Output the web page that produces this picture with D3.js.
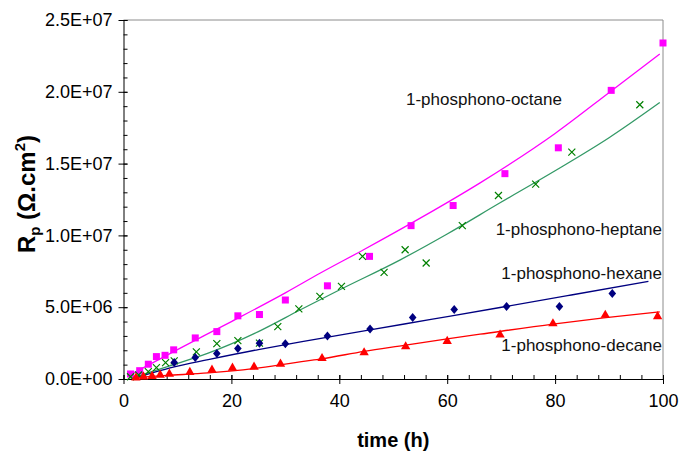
<!DOCTYPE html>
<html lang="en">
<head>
<meta charset="UTF-8">
<title>Rp vs time</title>
<script src="https://cdnjs.cloudflare.com/ajax/libs/d3/7.8.5/d3.min.js"></script>
<style>
  body { margin: 0; background: #fff; }
  svg { display: block; font-family: "Liberation Sans", Arial, sans-serif; }
  .tick text { font-size: 18px; fill: #000; }
  .domain, .tick line { stroke: #000; }
</style>
</head>
<body>
<div id="chart"></div>
<script>
// measured points [time h, Rp ohm.cm2]
const octane = [[1.3,3.5e5],[3.0,5.8e5],[4.6,1.03e6],[6.1,1.56e6],[7.7,1.65e6],[9.3,2.03e6],
  [13.3,2.86e6],[17.3,3.3e6],[21.2,4.4e6],[25.2,4.49e6],[30.0,5.5e6],[37.8,6.49e6],[45.6,8.54e6],
  [53.3,1.068e7],[61.1,1.208e7],[70.7,1.43e7],[80.6,1.61e7],[90.4,2.01e7],[100,2.34e7]];
const heptane = [[1.3,1.6e5],[2.8,2.8e5],[4.6,5.1e5],[6.1,7.9e5],[7.8,1.14e6],[9.4,1.26e6],
  [13.5,1.89e6],[17.3,2.46e6],[21.2,2.67e6],[25.2,2.5e6],[28.6,3.65e6],[32.5,4.88e6],[36.4,5.75e6],
  [40.4,6.45e6],[44.3,8.54e6],[48.3,7.42e6],[52.2,9.0e6],[56.1,8.08e6],[62.8,1.068e7],[69.5,1.278e7],
  [76.4,1.357e7],[83.1,1.58e7],[95.7,1.91e7]];
const hexane = [[9.4,1.15e6],[13.3,1.49e6],[17.3,1.78e6],[21.2,2.13e6],[25.2,2.49e6],[30.0,2.45e6],
  [37.8,3.0e6],[45.7,3.49e6],[53.6,4.28e6],[61.3,4.84e6],[71.0,5.05e6],[80.8,5.05e6],[90.6,5.96e6]];
const decane = [[2.3,8e4],[3.7,1.6e5],[5.3,1.9e5],[6.8,2.8e5],[8.5,3.5e5],[12.3,4.7e5],[16.4,6.3e5],
  [20.2,7.7e5],[24.2,8.4e5],[29.1,1.05e6],[36.8,1.44e6],[44.6,1.84e6],[52.3,2.26e6],[60.0,2.63e6],
  [69.8,3.07e6],[79.6,3.86e6],[89.3,4.45e6],[99.0,4.35e6]];

// trend lines
const octaneFit = [[1.3,3.0e5],[10,2.05e6],[20,4.0e6],[30,6.0e6],[36.5,7.38e6],[44.5,9.0e6],
  [55,1.12e7],[66.1,1.366e7],[80,1.71e7],[90.4,2.006e7],[99.4,2.263e7]];
const heptaneFit = [[1.3,5e4],[8,8.5e5],[15.7,1.8e6],[25,3.3e6],[32.8,4.82e6],[40,6.2e6],
  [51.3,8.3e6],[60,1.01e7],[69.8,1.227e7],[80,1.45e7],[90,1.68e7],[99.4,1.925e7]];
const hexaneFit = [[1.8,5e4],[5,4e5],[9.4,8.5e5],[15.7,1.35e6],[25,2.05e6],[33.1,2.6e6],
  [45.7,3.42e6],[57,4.15e6],[69.8,4.98e6],[83,5.85e6],[97.3,6.8e6]];
const decaneFit = [[2,1.0e5],[8,2.5e5],[15.7,4.2e5],[24,7.2e5],[29,9.8e5],[33,1.21e6],[36.7,1.4e6],
  [44.6,1.93e6],[52.3,2.36e6],[60,2.8e6],[66.1,3.12e6],[79.6,3.82e6],[89,4.25e6],[99.4,4.68e6]];

const yTicks = [0, 5e6, 1e7, 1.5e7, 2e7, 2.5e7];
const yTickLabels = ["0.0E+00","5.0E+06","1.0E+07","1.5E+07","2.0E+07","2.5E+07"];
const xTicks = [0, 20, 40, 60, 80, 100];

const W = 680, H = 452;
const m = { left: 123.5, right: 663, top: 20, bottom: 379 };

const svg = d3.select("#chart").append("svg").attr("width", W).attr("height", H);

const x = d3.scaleLinear().domain([0, 100]).range([m.left, m.right]);
const y = d3.scaleLinear().domain([0, 2.5e7]).range([m.bottom, m.top]);

// grey frame top/right
svg.append("path")
  .attr("d", `M${m.left},${m.top}H${m.right}V${m.bottom}`)
  .attr("fill", "none").attr("stroke", "#8c8c8c").attr("stroke-width", 1);

// minor ticks
svg.append("g").attr("transform", `translate(${m.left},0)`)
  .call(d3.axisLeft(y).tickValues(d3.range(0, 2.5e7 + 1, 1e6)).tickSize(-4).tickFormat(""))
  .call(g => g.select(".domain").remove());
svg.append("g").attr("transform", `translate(0,${m.bottom})`)
  .call(d3.axisBottom(x).tickValues(d3.range(0, 101, 4)).tickSize(-4).tickFormat(""))
  .call(g => g.select(".domain").remove());

// major axes
svg.append("g").attr("transform", `translate(${m.left},0)`)
  .call(d3.axisLeft(y).tickValues(yTicks).tickSize(5).tickPadding(6)
    .tickFormat((d, i) => yTickLabels[i]).tickSizeOuter(0))
  .call(g => g.selectAll(".tick line").attr("x1", 4));
svg.append("g").attr("transform", `translate(0,${m.bottom})`)
  .call(d3.axisBottom(x).tickValues(xTicks).tickSize(5).tickPadding(10).tickSizeOuter(0))
  .call(g => g.selectAll(".tick line").attr("y1", -4));

svg.selectAll(".tick text").attr("font-family", "Liberation Sans, Arial, sans-serif");

// fitted curves
const line = d3.line().x(d => x(d[0])).y(d => y(d[1])).curve(d3.curveMonotoneX);
const fits = [
  { data: octaneFit, color: "#ff00ff" },
  { data: heptaneFit, color: "#339966" },
  { data: hexaneFit, color: "#000080" },
  { data: decaneFit, color: "#ff0000" }
];
svg.append("g").selectAll("path").data(fits).join("path")
  .attr("d", d => line(d.data))
  .attr("fill", "none")
  .attr("stroke", d => d.color)
  .attr("stroke-width", 1.3);

// markers
svg.append("g").selectAll("rect").data(octane).join("rect")
  .attr("x", d => x(d[0]) - 3.5).attr("y", d => y(d[1]) - 3.5)
  .attr("width", 7).attr("height", 7).attr("fill", "#ff00ff");

svg.append("g").selectAll("path").data(heptane).join("path")
  .attr("transform", d => `translate(${x(d[0])},${y(d[1])})`)
  .attr("d", "M-3.5,-3.5L3.5,3.5M-3.5,3.5L3.5,-3.5")
  .attr("stroke", "#008000").attr("stroke-width", 1.2).attr("fill", "none");

svg.append("g").selectAll("path").data(hexane).join("path")
  .attr("transform", d => `translate(${x(d[0])},${y(d[1])})`)
  .attr("d", "M0,-4.5L3.8,0L0,4.5L-3.8,0Z")
  .attr("fill", "#000080");

svg.append("g").selectAll("path").data(decane).join("path")
  .attr("transform", d => `translate(${x(d[0])},${y(d[1])})`)
  .attr("d", d3.symbol(d3.symbolTriangle, 38))
  .attr("fill", "#ff0000");

// series labels
const labels = [
  { text: "1-phosphono-octane", x: 406, y: 105, anchor: "start" },
  { text: "1-phosphono-heptane", x: 662, y: 235, anchor: "end" },
  { text: "1-phosphono-hexane", x: 662, y: 279, anchor: "end" },
  { text: "1-phosphono-decane", x: 662, y: 351, anchor: "end" }
];
svg.append("g").selectAll("text").data(labels).join("text")
  .attr("x", d => d.x).attr("y", d => d.y)
  .attr("text-anchor", d => d.anchor)
  .attr("font-size", 17).attr("fill", "#111")
  .text(d => d.text);

// axis titles
svg.append("text")
  .attr("x", (m.left + m.right) / 2).attr("y", 447)
  .attr("text-anchor", "middle").attr("font-size", 20).attr("font-weight", "bold")
  .text("time (h)");

const yt = svg.append("text")
  .attr("transform", "translate(35,194) rotate(-90)")
  .attr("text-anchor", "middle").attr("font-size", 24).attr("font-weight", "bold");
yt.append("tspan").text("R");
yt.append("tspan").attr("font-size", 15).attr("dy", 5).text("p");
yt.append("tspan").attr("dy", -5).text(" (Ω.cm");
yt.append("tspan").attr("font-size", 15).attr("dy", -10).text("2");
yt.append("tspan").attr("dy", 10).text(")");
</script>
</body>
</html>
